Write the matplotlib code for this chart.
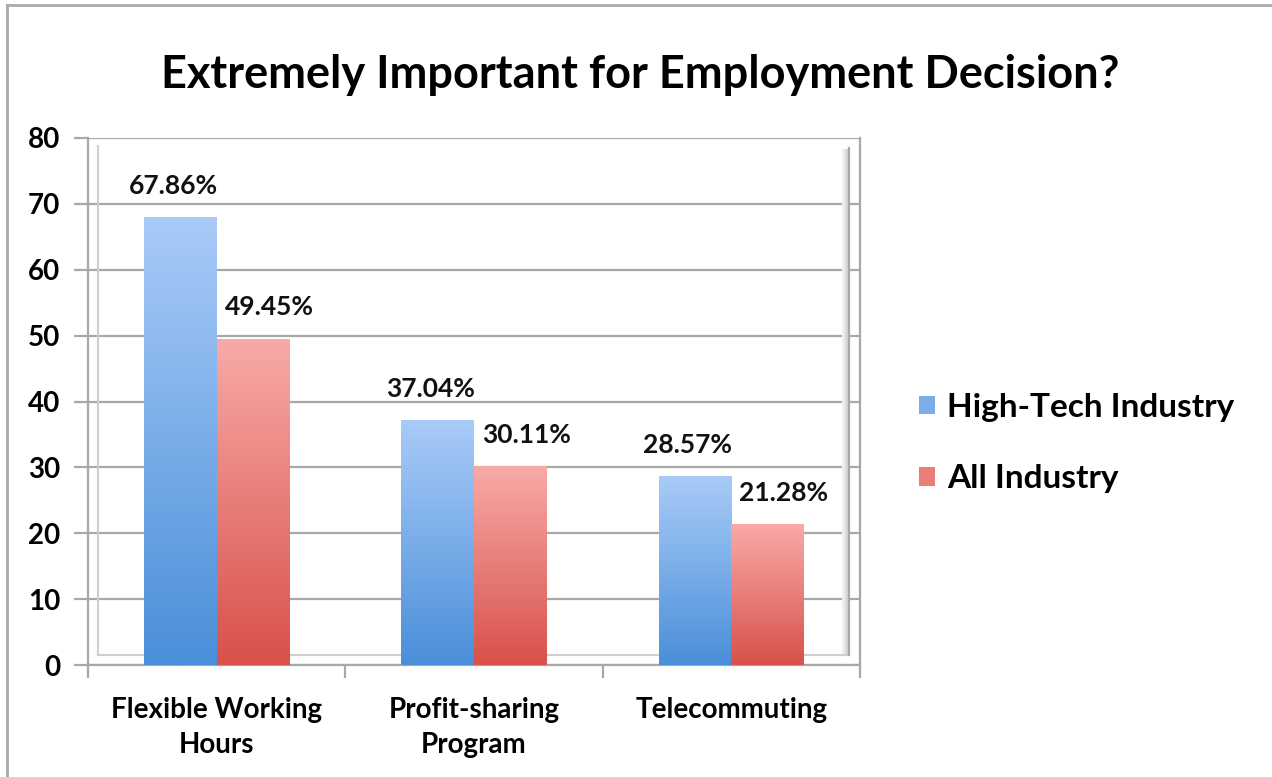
import numpy as np
import matplotlib
matplotlib.use("Agg")
import matplotlib.pyplot as plt
from matplotlib.colors import LinearSegmentedColormap
from matplotlib.patches import Patch
from matplotlib.lines import Line2D

plt.rcParams['font.family'] = ['Lato', 'DejaVu Sans']
plt.rcParams['font.weight'] = 'bold'

# datos
categorias = ["Flexible Working\nHours", "Profit-sharing\nProgram", "Telecommuting"]
series     = ["High-Tech Industry", "All Industry"]
high_tech  = [67.86, 37.04, 28.57]
all_ind    = [49.45, 30.11, 21.28]
yticks     = [0, 10, 20, 30, 40, 50, 60, 70, 80]

# colores (abajo -> arriba)
azul = LinearSegmentedColormap.from_list("azul", ["#4a8fd9", "#a9cbf8"])
rojo = LinearSegmentedColormap.from_list("rojo", ["#d8514a", "#f8aaa7"])

W, H = 1272, 777
fig = plt.figure(figsize=(W/100, H/100), dpi=100)
ax = fig.add_axes([88/W, 1-665/H, (860-88)/W, (665-138)/H])

x = np.arange(len(categorias)) + 0.5
ancho = 0.283
grad = np.linspace(0, 1, 256).reshape(-1, 1)

def barras(pos, vals, cmap, dx_lab):
    bars = ax.bar(pos, vals, ancho, color='none', edgecolor='none', zorder=3)
    for b, v in zip(bars, vals):
        x0 = b.get_x()
        ax.imshow(grad, cmap=cmap, origin='lower', aspect='auto',
                  extent=[x0, x0 + b.get_width(), 0, b.get_height()], zorder=3)
        ax.annotate("%.2f%%" % v, (x0 + b.get_width()/2, v), xytext=(dx_lab, 32),
                    textcoords='offset pixels', ha='center', va='center',
                    fontsize=19, fontweight='bold', color='#111111', zorder=5)

barras(x - ancho/2, high_tech, azul, -7)
barras(x + ancho/2, all_ind, rojo, 16)

ax.set_xlim(0, 3)
ax.set_ylim(0, 80)

# grilla y paredes
gris = '#a8a8a8'
ax.set_yticks(yticks)
ax.set_yticklabels([str(t) for t in yticks], fontsize=20, fontweight='bold')
ax.yaxis.grid(True, color=gris, linewidth=1.6, zorder=1)
ax.set_axisbelow(True)
ax.set_xticks(x)
ax.set_xticklabels(categorias, fontsize=20, fontweight='bold', linespacing=1.45)
ax.set_xticks([0, 1, 2, 3], minor=True)
ax.tick_params(axis='x', which='major', length=0, pad=23)
ax.tick_params(axis='x', which='minor', length=9, width=1.6, color=gris)
ax.tick_params(axis='y', length=10, width=1.6, color=gris, pad=10)
for s in ax.spines.values():
    s.set_color(gris)
    s.set_linewidth(1.6)
ax.spines['top'].set_visible(False)

# pared interna (efecto 3D)
tr = ax.transAxes
ax.add_line(Line2D([10/772, 10/772], [10/527, 1 - 8/527], color='#cfcfcf', lw=1.5, transform=tr, zorder=2))
ax.add_line(Line2D([10/772, 1 - 11/772], [10/527, 10/527], color='#cfcfcf', lw=1.5, transform=tr, zorder=2))
ax.add_line(Line2D([1 - 11/772, 1 - 11/772], [10/527, 1 - 10/527], color='#a8a8a8', lw=1.6, transform=tr, zorder=2))
for k, c in enumerate(['#d4d4d4', '#e4e4e4', '#f0f0f0']):
    ax.add_line(Line2D([1 - (13.5 + 2*k)/772]*2, [10/527, 1 - 12/527], color=c, lw=1.5, transform=tr, zorder=1.5))

fig.text(640/W, 1 - 75/H, "Extremely Important for Employment Decision?", fontsize=32.5,
         fontweight='bold', ha='center', va='center')

# leyenda
handles = [Patch(facecolor='#7aaee9', edgecolor='none'), Patch(facecolor='#ea7d78', edgecolor='none')]
fig.legend(handles, series, loc='center left', bbox_to_anchor=(906/W, 1-443/H),
           frameon=False, fontsize=24, handlelength=0.48, handleheight=0.48,
           handletextpad=0.36, labelspacing=1.28, borderaxespad=0)

# borde exterior
fig.add_artist(Line2D([7/W, 7/W], [0, 1-5/H], color='#aaaaaa', lw=2))
fig.add_artist(Line2D([7/W, 1], [1-5/H, 1-5/H], color='#aaaaaa', lw=2))

fig.savefig("out.png", dpi=100)
